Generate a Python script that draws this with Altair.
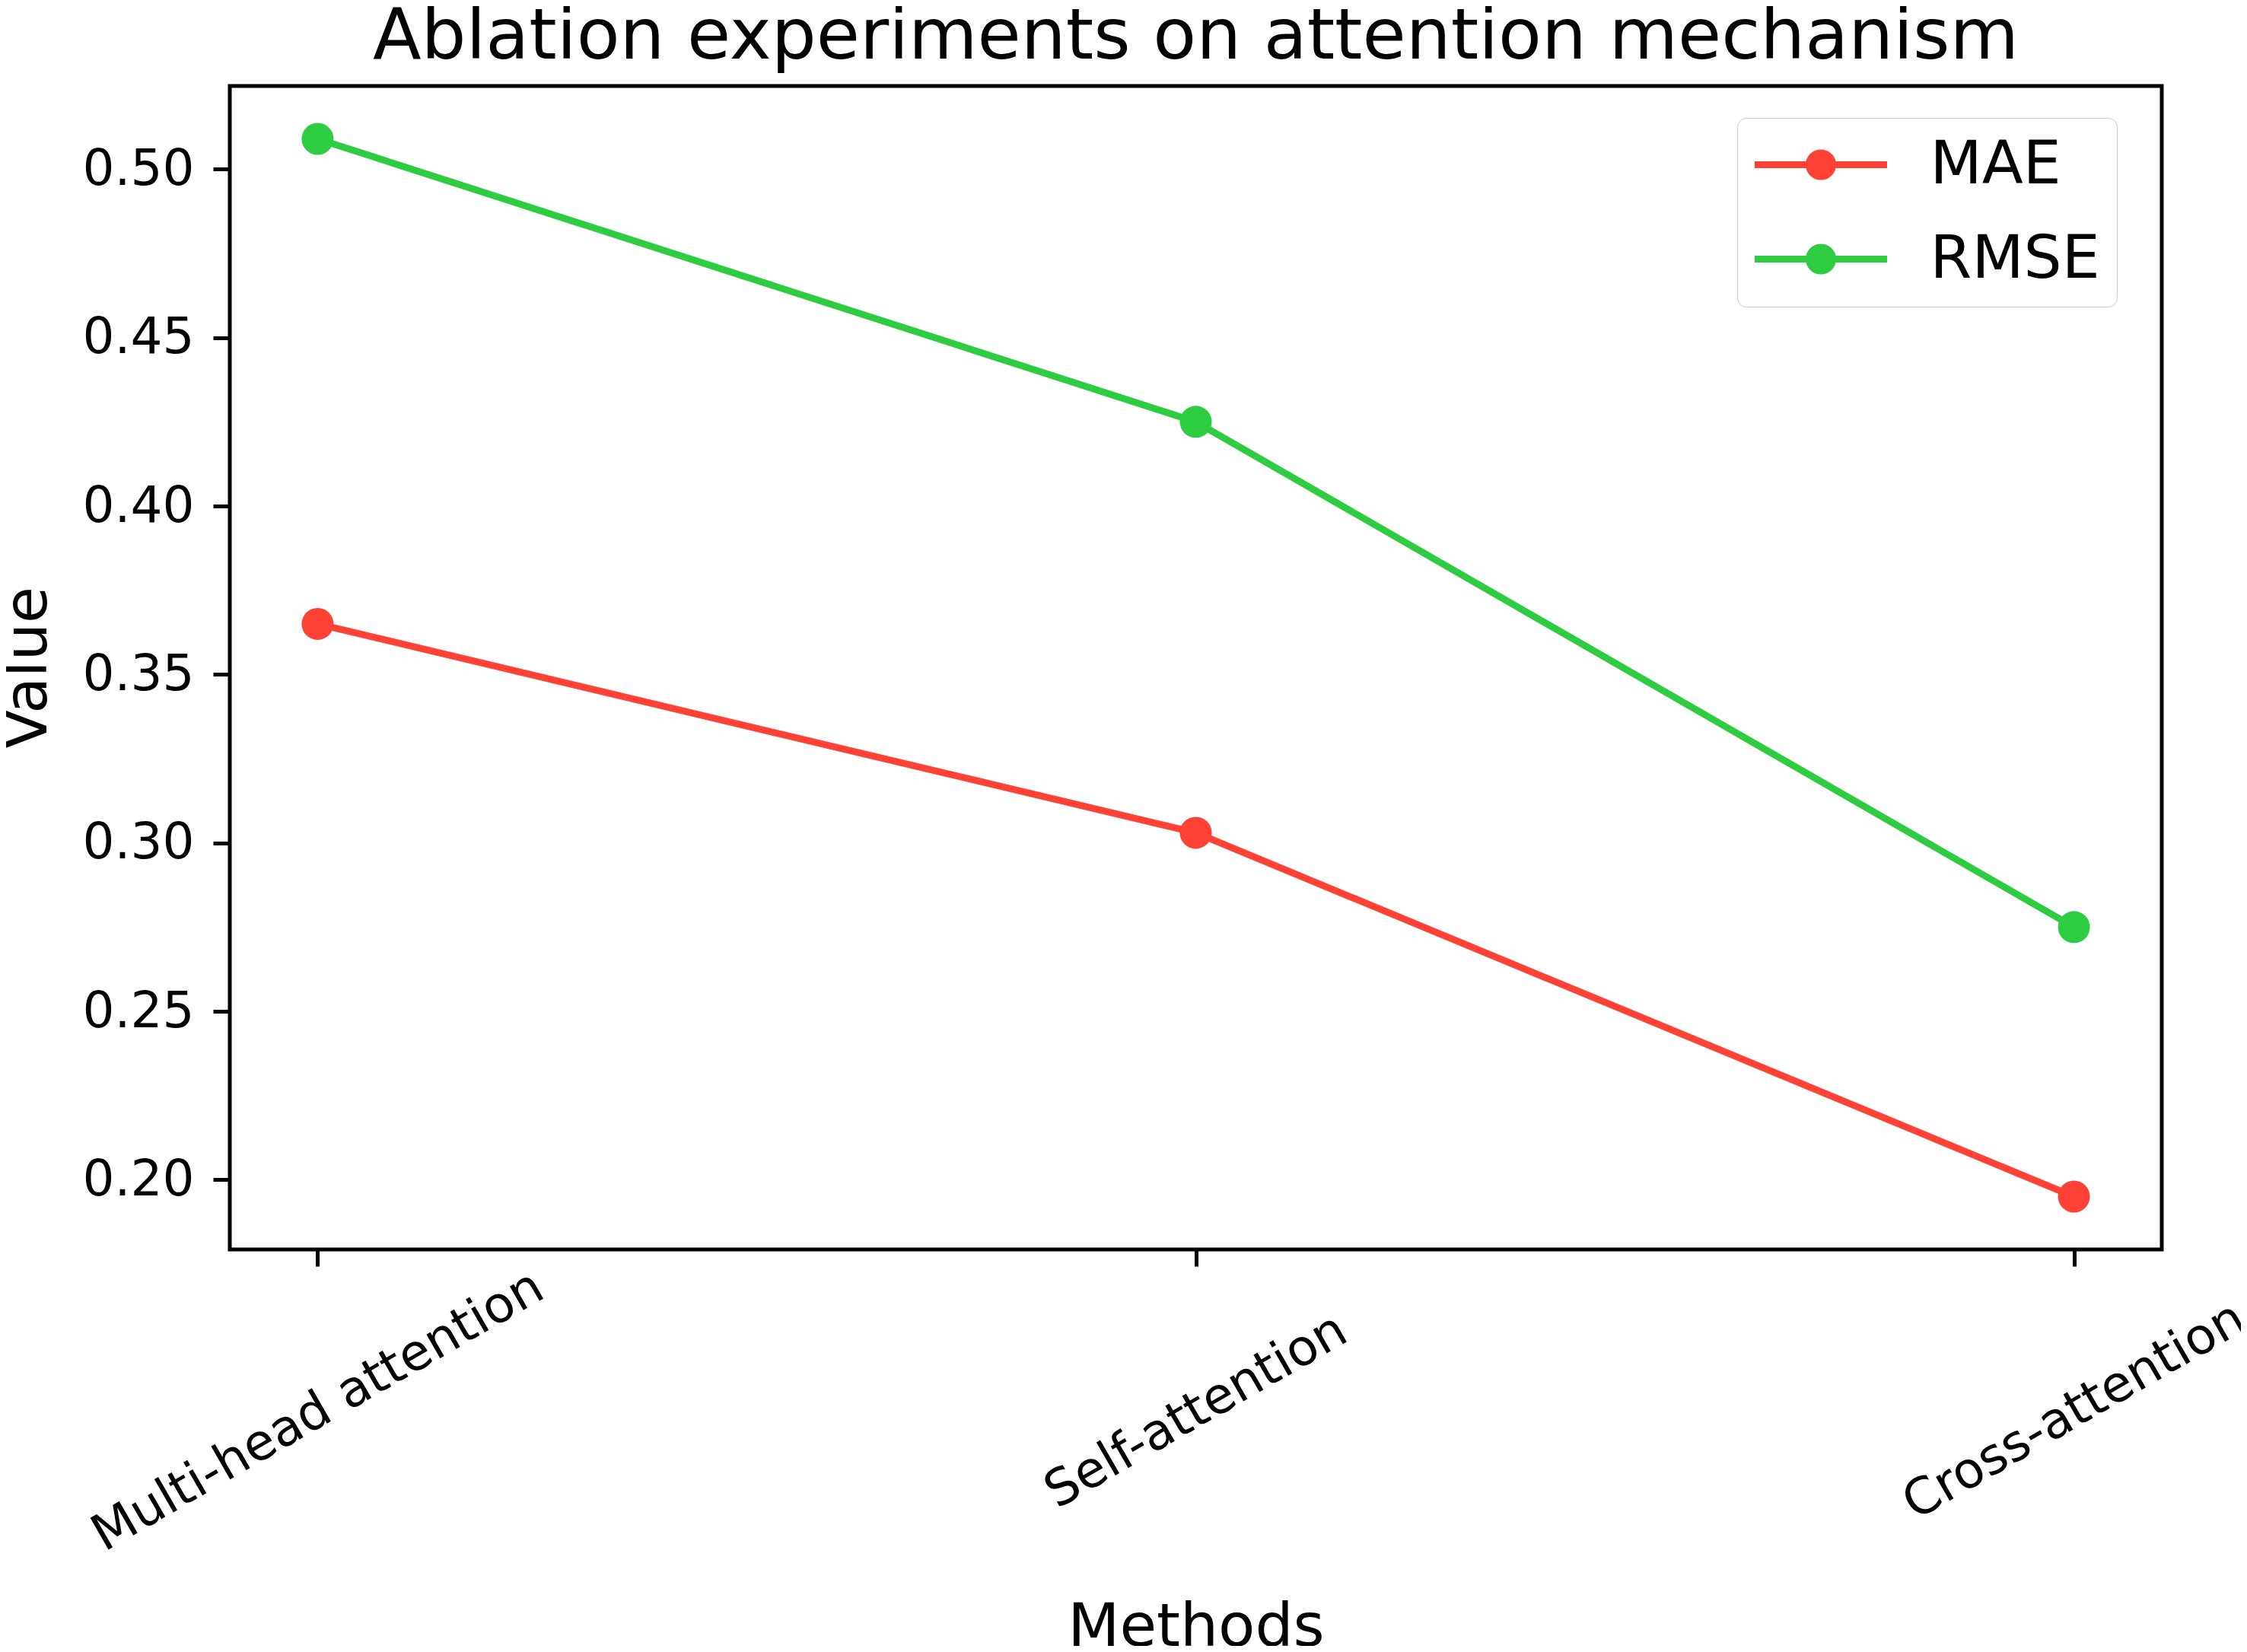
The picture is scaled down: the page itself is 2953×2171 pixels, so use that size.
import altair as alt
import pandas as pd

methods = ["Multi-head attention", "Self-attention", "Cross-attention"]
mae = [0.365, 0.303, 0.195]
rmse = [0.509, 0.425, 0.275]
series = ["MAE", "RMSE"]
colors = ["#FF4136", "#2ECC40"]
y_ticks = [0.20, 0.25, 0.30, 0.35, 0.40, 0.45, 0.50]

rows = []
for m, a, r in zip(methods, mae, rmse):
    rows.append({"Method": m, "Metric": "MAE", "Value": a})
    rows.append({"Method": m, "Metric": "RMSE", "Value": r})
df = pd.DataFrame(rows)

lo = min(mae + rmse)
hi = max(mae + rmse)
span = hi - lo
y_domain = [lo - 0.05 * span, hi + 0.05 * span]

FONT = "DejaVu Sans"
W, H = 2539, 1529

x_enc = alt.X(
    "Method:N",
    sort=methods,
    scale=alt.Scale(type="point", padding=0.1),
    axis=alt.Axis(
        title="Methods",
        labelAngle=330,
        labelAlign="center",
        labelBaseline="middle",
        labelPadding=190,
        labelFontSize=66,
        labelFont=FONT,
        labelColor="black",
        labelLimit=3000,
        labelOverlap=False,
        tickSize=22,
        tickWidth=5,
        tickColor="black",
        domain=False,
        grid=False,
        titleFont=FONT,
        titleFontSize=79,
        titleFontWeight="normal",
        titleColor="black",
        titleX=W / 2,
        titleY=520,
        titleBaseline="alphabetic",
        titleAlign="center",
    ),
)

y_enc = alt.Y(
    "Value:Q",
    scale=alt.Scale(domain=y_domain, nice=False, zero=False),
    axis=alt.Axis(
        title="Value",
        values=y_ticks,
        format=".2f",
        labelFontSize=66,
        labelFont=FONT,
        labelColor="black",
        labelPadding=25,
        labelLimit=3000,
        tickSize=22,
        tickWidth=5,
        tickColor="black",
        domain=False,
        grid=False,
        titleFont=FONT,
        titleFontSize=78,
        titleFontWeight="normal",
        titleColor="black",
        titleAngle=270,
        titleX=-242,
        titleY=H / 2,
        titleBaseline="alphabetic",
        titleAlign="center",
    ),
)

# legend symbol: a line segment with a dot in the middle (unit-box coordinates)
symbol_path = (
    "M-4.35,0L4.35,0"
    "M0.775,0C0.775,0.428,0.428,0.775,0,0.775"
    "C-0.428,0.775,-0.775,0.428,-0.775,0"
    "C-0.775,-0.428,-0.428,-0.775,0,-0.775"
    "C0.428,-0.775,0.775,-0.428,0.775,0Z"
)

legend = alt.Legend(
    title=None,
    orient="none",
    legendX=1981,
    legendY=42,
    padding=22,
    rowPadding=44,
    symbolType=symbol_path,
    symbolSize=1600,
    symbolStrokeWidth=9,
    symbolOffset=48.5,
    labelOffset=104,
    labelFont=FONT,
    labelFontSize=79,
    labelColor="black",
    labelLimit=3000,
    fillColor="white",
    strokeColor="#cccccc",
    cornerRadius=12,
)

color_scale = alt.Scale(domain=series, range=colors)

lines = alt.Chart(df).mark_line(strokeWidth=9).encode(
    x=x_enc,
    y=y_enc,
    color=alt.Color("Metric:N", scale=color_scale, legend=legend),
)

points = alt.Chart(df).mark_point(filled=True, size=1764, opacity=1).encode(
    x=x_enc,
    y=y_enc,
    color=alt.Color("Metric:N", scale=color_scale, legend=legend),
)

chart = (
    alt.layer(lines, points)
    .properties(
        width=W,
        height=H,
        autosize=alt.AutoSizeParams(type="none"),
        padding={"left": 294, "top": 105, "right": 104, "bottom": 521},
        title=alt.TitleParams(
            text="Ablation experiments on attention mechanism",
            font=FONT,
            fontSize=93,
            fontWeight="normal",
            color="black",
            anchor="middle",
            offset=16,
        ),
    )
    .configure(background="white")
    .configure_view(stroke="black", strokeWidth=5)
)

chart.save("out.html", embed_options={"renderer": "svg", "actions": False})
